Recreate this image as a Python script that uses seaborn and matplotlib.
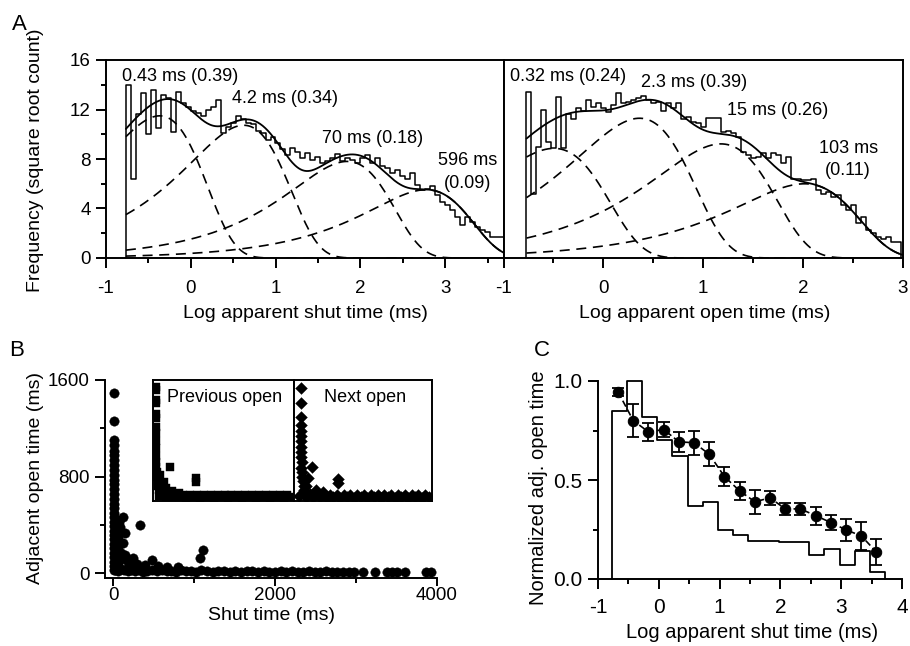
import numpy as np
import matplotlib
matplotlib.use("Agg")
import matplotlib.pyplot as plt
import seaborn as sns
from matplotlib.ticker import MultipleLocator, FormatStrFormatter

sns.set_theme(style="ticks")
plt.rcParams['font.family'] = ['Liberation Sans', 'DejaVu Sans']
plt.rcParams['axes.unicode_minus'] = False
for k in ['text.color', 'axes.labelcolor', 'xtick.color', 'ytick.color', 'axes.edgecolor']:
    plt.rcParams[k] = 'black'

# ---------------- DATA ----------------
# Panel A left: log apparent shut time histogram (square-root counts)
shut_bin_start = -0.765
shut_bin_width = 0.0588
shut_sqrt_counts = [14.0, 6.4, 11.6, 13.3, 10.0, 13.6, 10.5, 13.2, 12.9, 10.2,
                    13.4, 12.5, 12.2, 11.9, 11.7, 11.5, 12.0, 12.2, 12.8, 10.1,
                    10.6, 10.9, 11.5, 11.2, 10.9, 10.8, 10.3, 10.1, 9.5, 9.8,
                    9.3, 8.8, 8.3, 8.9, 8.6, 8.1, 8.5, 7.9, 8.2, 7.7,
                    7.8, 8.1, 8.4, 7.8, 8.1, 7.9, 7.7, 8.1, 8.3, 7.7,
                    8.1, 7.4, 7.3, 6.9, 7.1, 6.6, 6.4, 6.9, 5.9, 5.5,
                    5.6, 5.8, 5.1, 4.5, 4.3, 3.9, 3.3, 2.7, 3.3, 2.9,
                    2.5, 2.3, 2.1, 1.7, 1.7, 1.7]
shut_tau = [0.43, 4.2, 70, 596]          # ms
shut_area = [0.39, 0.34, 0.18, 0.09]
shut_labels = ["0.43 ms (0.39)", "4.2 ms (0.34)", "70 ms (0.18)", "596 ms\n(0.09)"]
shut_scale = 920

# Panel A right: log apparent open time histogram
open_bin_start = -0.77
open_bin_width = 0.05
open_sqrt_counts = [13.4, 5.2, 9.0, 12.0, 9.4, 8.9, 13.0, 8.9, 11.6, 11.2,
                    12.1, 11.9, 12.8, 12.2, 12.5, 12.1, 11.8, 12.4, 13.3, 12.5,
                    12.6, 12.8, 12.9, 13.1, 12.8, 12.5, 12.6, 11.9, 12.5, 12.1,
                    12.5, 11.2, 11.4, 11.0, 10.9, 10.6, 11.3, 11.3, 11.3, 10.2,
                    10.3, 10.1, 9.8, 8.6, 8.3, 8.1, 8.2, 8.5, 8.1, 8.5,
                    8.3, 7.7, 8.2, 6.4, 6.4, 6.3, 6.3, 6.4, 5.5, 5.2,
                    5.3, 4.9, 5.1, 4.3, 3.9, 4.3, 2.8, 3.3, 2.3, 2.0,
                    1.7, 1.5, 1.7, 1.3, 1.3]
open_tau = [0.32, 2.3, 15, 103]
open_area = [0.24, 0.39, 0.26, 0.11]
open_labels = ["0.32 ms (0.24)", "2.3 ms (0.39)", "15 ms (0.26)", "103 ms\n(0.11)"]
open_scale = 889

# Panel B: adjacent open time vs shut time (ms)
col_shut = [12, 10, 11, 9, 12, 10, 8, 11, 13, 9, 10, 12, 8, 11, 10, 13, 9, 12, 10, 14,
            11, 9, 13, 10, 12, 15, 11, 9, 13, 10, 12]
col_open = [1495, 1263, 1103, 1061, 1015, 975, 935, 895, 855, 810, 770, 735, 695, 655, 615,
            575, 540, 500, 465, 425, 390, 350, 315, 280, 240, 205, 170, 130, 95, 60, 30]
clu_shut = [40, 60, 75, 90, 127, 148, 127, 60, 80, 45, 100, 180, 251, 300, 478, 400, 550,
            663, 806, 1115, 1074, 333, 95, 70, 35, 55, 150, 200, 230]
clu_open = [350, 300, 420, 380, 467, 334, 246, 200, 250, 150, 120, 90, 122, 80, 108, 70, 60,
            47, 47, 191, 122, 398, 170, 110, 250, 80, 150, 60, 100]
band_shut = [20, 60, 100, 140, 180, 220, 270, 320, 370, 420, 480, 540, 600, 660, 720, 780,
             840, 900, 960, 1020, 1090, 1160, 1230, 1300, 1370, 1440, 1510, 1580, 1650, 1720,
             1790, 1860, 1930, 2000, 2070, 2140, 2210, 2280, 2350, 2420, 2490, 2560, 2630,
             2700, 2770, 2840, 2910, 2980, 3090, 3235, 3379, 3440, 3502, 3605, 3860, 3920]
band_open = [30, 20, 35, 25, 15, 30, 20, 28, 12, 22, 30, 15, 25, 18, 22, 10, 28, 15, 20, 12,
             25, 18, 10, 22, 15, 12, 20, 8, 18, 14, 10, 16, 8, 12, 18, 10, 14, 6, 12, 16,
             8, 10, 14, 6, 10, 12, 8, 10, 10, 8, 10, 6, 8, 10, 8, 10]

# Inset: previous open (squares) and next open (diamonds)
prev_shut = [30, 30, 30, 30, 30, 30, 30, 20, 25, 20, 25, 30, 40, 50, 60, 70, 90, 110, 130,
             434, 1191, 1191, 300, 500, 700, 250, 150,
             100, 200, 300, 400, 500, 600, 700, 800, 900, 1000, 1100, 1200, 1300, 1400, 1500,
             1600, 1700, 1800, 1900, 2000, 2100, 2200, 2300, 2400, 2500, 2600, 2700, 2800,
             2900, 3000, 3100, 3200, 3300, 3400, 3500, 3600, 3700, 3800, 3900]
prev_open = [1511, 1470, 1335, 1300, 1150, 1100, 983, 900, 800, 700, 600, 520, 450, 380, 320,
             260, 200, 150, 100,
             453, 255, 300, 170, 130, 110, 250, 350,
             60, 100, 50, 90, 55, 95, 50, 85, 45, 80, 50, 85, 45, 80, 50, 80, 45, 75, 50,
             80, 45, 75, 50, 80, 45, 75, 50, 80, 45, 75, 50, 80, 45, 75, 50, 80, 45, 75, 50]
next_shut = [150, 150, 150, 140, 150, 160, 150, 140, 160, 150, 170, 160, 180, 190, 200, 220,
             240, 260,
             464, 1237, 1237, 350, 300, 600, 800,
             100, 200, 300, 400, 500, 600, 700, 800, 900, 1000, 1100, 1200, 1300, 1400, 1500,
             1600, 1700, 1800, 1900, 2000, 2100, 2200, 2300, 2400, 2500, 2600, 2700, 2800,
             2900, 3000, 3100, 3200, 3300, 3400, 3500, 3600, 3700, 3800, 3900]
next_open = [1494, 1296, 1111, 1000, 930, 860, 790, 720, 650, 580, 510, 440, 380, 320, 260,
             200, 150, 100,
             453, 234, 290, 300, 200, 150, 120,
             60, 100, 50, 90, 55, 95, 50, 85, 45, 80, 50, 85, 45, 80, 50, 80, 45, 75, 50,
             80, 45, 75, 50, 80, 45, 75, 50, 80, 45, 75, 50, 80, 45, 75, 50, 80, 45, 75, 50]

# Panel C: normalized adjacent open time vs log apparent shut time
c_bin_start = -0.775
c_bin_width = 0.25
c_hist = [0.85, 1.0, 0.82, 0.70, 0.62, 0.37, 0.39, 0.25, 0.22, 0.19, 0.19, 0.185, 0.185,
          0.12, 0.15, 0.07, 0.14, 0.035]
c_x = [-0.67, -0.42, -0.17, 0.08, 0.33, 0.58, 0.83, 1.08, 1.33, 1.58, 1.83, 2.08, 2.33,
       2.58, 2.83, 3.08, 3.33, 3.58]
c_mean = [0.945, 0.80, 0.743, 0.755, 0.693, 0.688, 0.63, 0.517, 0.445, 0.39, 0.41, 0.354,
          0.354, 0.32, 0.285, 0.248, 0.218, 0.136]
c_err = [0.022, 0.085, 0.047, 0.04, 0.05, 0.06, 0.06, 0.048, 0.045, 0.06, 0.035, 0.03,
         0.032, 0.045, 0.04, 0.055, 0.07, 0.065]

# ---------------- FIGURE ----------------
W, H = 910, 646
fig = plt.figure(figsize=(W / 100, H / 100), dpi=100)


def box(l, t, r, b):
    return [l / W, 1 - b / H, (r - l) / W, (b - t) / H]


LW = 1.4


def style(ax, spines=('left', 'bottom'), tsize=13.5, xpad=9, xlen=7):
    for s in ['left', 'right', 'top', 'bottom']:
        ax.spines[s].set_visible(s in spines)
        ax.spines[s].set_linewidth(LW)
        ax.spines[s].set_color('black')
    ax.tick_params(which='major', direction='out', length=7, width=LW, labelsize=tsize,
                   color='black', pad=4, top=False, right=False)
    ax.tick_params(which='minor', direction='out', length=3.5, width=LW, color='black',
                   top=False, right=False)
    ax.tick_params(axis='x', which='major', pad=xpad, length=xlen)
    ax.grid(False)
    ax.set_facecolor('white')


def step_xy(start, width, vals):
    n = len(vals)
    edges = start + width * np.arange(n + 1)
    xs = np.concatenate([[edges[0]], edges[:-1], [edges[-1], edges[-1]]])
    ys = np.concatenate([[0.0], vals, [vals[-1], 0.0]])
    return xs, ys


def component(x, tau, a, k):
    t = 10.0 ** x
    return k * a * (t / tau) * np.exp(-t / tau)


def panel_a(ax, start, width, vals, taus, areas, k, xmax, labels, label_pos):
    xs, ys = step_xy(start, width, vals)
    sns.lineplot(x=xs, y=ys, drawstyle='steps-post', estimator=None, sort=False,
                 color='black', lw=1.1, ax=ax)
    grid = np.linspace(start, xmax, 600)
    comps = [component(grid, t, a, k) for t, a in zip(taus, areas)]
    for c in comps:
        ax.plot(grid, np.sqrt(c), color='black', lw=1.2, ls=(0, (6, 4)))
    ax.plot(grid, np.sqrt(np.sum(comps, axis=0)), color='black', lw=1.3)
    for lab, (lx, ly) in zip(labels, label_pos):
        ax.text(lx, ly, lab, ha='center', va='center', fontsize=13, linespacing=1.45)


# Panel A
axA1 = fig.add_axes(box(106, 60, 503.5, 258))
axA2 = fig.add_axes(box(503.5, 60, 903, 258))
panel_a(axA1, shut_bin_start, shut_bin_width, shut_sqrt_counts, shut_tau, shut_area,
        shut_scale, 3.688, shut_labels,
        [(-0.12, 14.7), (1.106, 12.85), (2.147, 9.66), (3.27, 6.97)])
panel_a(axA2, open_bin_start, open_bin_width, open_sqrt_counts, open_tau, open_area,
        open_scale, 3.0, open_labels,
        [(-0.35, 14.7), (0.91, 14.2), (1.745, 11.9), (2.45, 7.96)])
for ax, xmax in [(axA1, 3.688), (axA2, 3.0)]:
    style(ax, spines=('left', 'bottom', 'top', 'right'))
    ax.set_xlim(-1, xmax)
    ax.set_ylim(0, 16)
    ax.xaxis.set_major_locator(MultipleLocator(1))
    ax.xaxis.set_minor_locator(MultipleLocator(0.5))
    ax.yaxis.set_major_locator(MultipleLocator(4))
    ax.yaxis.set_minor_locator(MultipleLocator(2))
    ax.set_xlabel('')
    ax.set_ylabel('')
axA2.tick_params(axis='y', which='both', left=False, labelleft=False)

# Panel B
axB = fig.add_axes(box(105, 380, 437, 578))
b_shut = col_shut + clu_shut + band_shut
b_open = col_open + clu_open + band_open
sns.scatterplot(x=b_shut, y=b_open, color='black', s=46, edgecolor='black', linewidth=0.3,
                ax=axB, clip_on=False)
style(axB, xpad=1, xlen=5.5)
axB.set_xlim(-100, 4000)
axB.set_ylim(-40, 1600)
axB.xaxis.set_major_locator(MultipleLocator(2000))
axB.xaxis.set_minor_locator(MultipleLocator(1000))
axB.yaxis.set_major_locator(MultipleLocator(800))
axB.yaxis.set_minor_locator(MultipleLocator(400))

# Inset
axI1 = fig.add_axes(box(153, 380, 294, 501))
axI2 = fig.add_axes(box(294, 380, 432, 501))
sns.scatterplot(x=prev_shut, y=prev_open, color='black', marker='s', s=36, edgecolor='black',
                linewidth=0.3, ax=axI1)
sns.scatterplot(x=next_shut, y=next_open, color='black', marker='D', s=36, edgecolor='black',
                linewidth=0.3, ax=axI2)
for ax in (axI1, axI2):
    style(ax, spines=('left', 'bottom', 'top', 'right'))
    ax.set_xlim(-60, 4000)
    ax.set_ylim(0, 1600)
    ax.set_xticks([])
    ax.set_yticks([])
    ax.set_xlabel('')
    ax.set_ylabel('')
fig.text(225 / W, 1 - 397 / H, 'Previous open', ha='center', va='center', fontsize=13)
fig.text(365 / W, 1 - 397 / H, 'Next open', ha='center', va='center', fontsize=13)

# Panel C
axC = fig.add_axes(box(598, 381, 902, 579))
xs, ys = step_xy(c_bin_start, c_bin_width, c_hist)
sns.lineplot(x=xs, y=ys, drawstyle='steps-post', estimator=None, sort=False,
             color='black', lw=1.3, ax=axC)
axC.errorbar(c_x, c_mean, yerr=c_err, fmt='none', ecolor='black', elinewidth=1.3,
             capsize=4, capthick=1.3, clip_on=False)
sns.lineplot(x=c_x, y=c_mean, color='black', lw=1.2, ls=(0, (4, 2)), marker='o',
             markersize=7.5, markeredgecolor='black', estimator=None, sort=False, ax=axC)
for ln in axC.lines:
    ln.set_clip_on(False)
style(axC, tsize=15, xpad=7)
axC.set_xlim(-1, 4)
axC.set_ylim(0, 1.0)
axC.xaxis.set_major_locator(MultipleLocator(1))
axC.xaxis.set_minor_locator(MultipleLocator(0.5))
axC.yaxis.set_major_locator(MultipleLocator(0.5))
axC.yaxis.set_minor_locator(MultipleLocator(0.25))
axC.yaxis.set_major_formatter(FormatStrFormatter('%.1f'))
axC.set_xlabel('')
axC.set_ylabel('')

# Axis labels and panel letters
fs = 14
fig.text(36 / W, 1 - 160 / H, 'Frequency (square root count)', rotation=90, ha='center',
         va='center', fontsize=fs)
fig.text(305 / W, 1 - 313 / H, 'Log apparent shut time (ms)', ha='center', va='center',
         fontsize=fs)
fig.text(705 / W, 1 - 313 / H, 'Log apparent open time (ms)', ha='center', va='center',
         fontsize=fs)
fig.text(36 / W, 1 - 478 / H, 'Adjacent open time (ms)', rotation=90, ha='center',
         va='center', fontsize=fs)
fig.text(272 / W, 1 - 616 / H, 'Shut time (ms)', ha='center', va='center', fontsize=fs)
fig.text(538 / W, 1 - 488 / H, 'Normalized adj. open time', rotation=90, ha='center',
         va='center', fontsize=fs + 0.5)
fig.text(752 / W, 1 - 633 / H, 'Log apparent shut time (ms)', ha='center', va='center',
         fontsize=fs + 0.5)
fig.text(19 / W, 1 - 24 / H, 'A', ha='center', va='center', fontsize=16)
fig.text(17 / W, 1 - 350 / H, 'B', ha='center', va='center', fontsize=16)
fig.text(542 / W, 1 - 350 / H, 'C', ha='center', va='center', fontsize=16)

fig.savefig('out.png', dpi=100, facecolor='white')
